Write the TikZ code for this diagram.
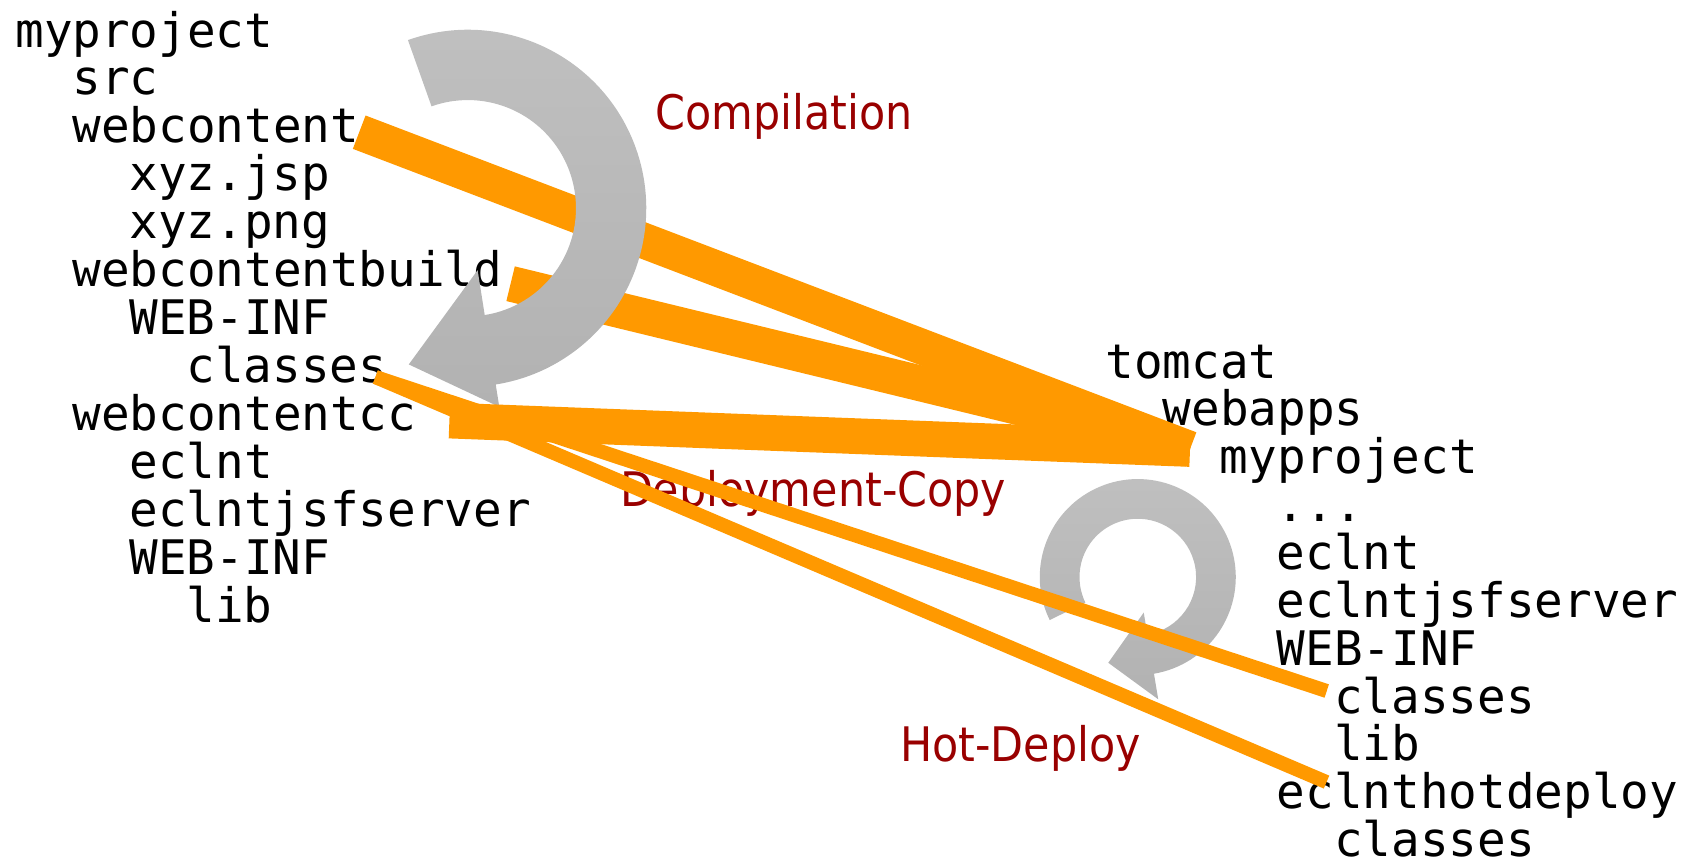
\documentclass[tikz,border=0pt]{standalone}
\usepackage{fontspec}
\setmonofont{DejaVu Sans Mono}
\newfontfamily\labelfont{DejaVu Sans}[FakeStretch=0.9]
\usepackage{tikz}
\usetikzlibrary{positioning}
\usepackage{xcolor}
\definecolor{bandorange}{HTML}{FF9900}
\definecolor{labelred}{HTML}{990000}
\definecolor{cycletop}{HTML}{C0C0C0}
\definecolor{cyclebot}{HTML}{B2B2B2}

\begin{document}
\begin{tikzpicture}[x=1pt, y=1pt,
    dir/.style={anchor=base west, inner sep=0pt, font=\ttfamily\fontsize{44}{44}\selectfont},
    lbl/.style={anchor=base west, inner sep=0pt, text=labelred, font=\labelfont\fontsize{44}{44}\selectfont},
    band/.style={draw=bandorange, line width=33pt},
    thinband/.style={draw=bandorange, line width=13pt},
    cycle/.style={top color=cycletop, bottom color=cyclebot}]
  \useasboundingbox (0,0) rectangle (1568,-796);
  % source tree (left) and tomcat tree (right)
  \foreach \lvl/\txt [count=\k from 0] in {0/myproject, 1/src, 1/webcontent, 2/xyz.jsp, 2/xyz.png,
      1/webcontentbuild, 2/WEB-INF, 3/classes, 1/webcontentcc, 2/eclnt, 2/eclntjsfserver, 2/WEB-INF, 3/lib}
    \node[dir] (L\k) at ({14+\lvl*52.8},{-43.5-\k*44.3}) {\txt};
  \foreach \lvl/\txt [count=\k from 0] in {0/tomcat, 1/webapps, 2/myproject, 3/.{}.{}., 3/eclnt, 3/eclntjsfserver,
      3/WEB-INF, 4/classes, 4/lib, 3/eclnthotdeploy, 4/classes}
    \node[dir] (R\k) at ({1022+\lvl*52.8},{-349.5-\k*44.25}) {\txt};
  % band ends
  \coordinate (wcOut) at ([shift={(0,9.9)}]L2.base east);
  \coordinate (wcbOut) at ([shift={(7.5,2.7)}]L5.base east);
  \coordinate (clsOut) at ([shift={(-11.1,5)}]L7.base east);
  \coordinate (wccOut) at ([shift={(30.4,9.1)}]L8.base east);
  \coordinate (prjIn) at ([shift={(-27.4,22.9)}]R2.base west);
  \coordinate (clsIn) at ([shift={(-6.6,20.4)}]R7.base west);
  \coordinate (hotIn) at ([shift={(46,24.7)}]R9.base west);
  \draw[band] (wcOut) -- (prjIn);
  \draw[band] (wcbOut) -- (prjIn);
  % compilation cycle
  \coordinate (bigC) at (432.5,-192.5);
  \path[cycle] (bigC) ++(109.6:165) arc[start angle=109.6, end angle=-81, radius=165]
    -- ([shift={(-81:186)}]bigC) -- ([shift={(-110.7:154.4)}]bigC) -- ([shift={(-81:58)}]bigC)
    -- ([shift={(-81:100)}]bigC) arc[start angle=-81, end angle=109.6, radius=100] -- cycle;
  \draw[band] (wccOut) -- (prjIn);
  % hot deploy cycle
  \coordinate (smallC) at (1051.9,-533.5);
  \path[cycle] (smallC) ++(206:90.6) arc[start angle=206, end angle=-80.5, radius=90.6]
    -- ([shift={(-80.5:114.6)}]smallC) -- ([shift={(-109:83.8)}]smallC) -- ([shift={(-80.5:33.3)}]smallC)
    -- ([shift={(-80.5:53.9)}]smallC) arc[start angle=-80.5, end angle=206, radius=53.9] -- cycle;
  \node[lbl] (compile) at (606,-120) {Compilation};
  \node[lbl] (deploy) at (573,-468) {Deployment-Copy};
  \node[lbl] (hotdeploy) at (832,-704) {Hot-Deploy};
  \draw[thinband] (clsOut) -- (clsIn);
  \draw[thinband] (clsOut) -- (hotIn);
\end{tikzpicture}
\end{document}
